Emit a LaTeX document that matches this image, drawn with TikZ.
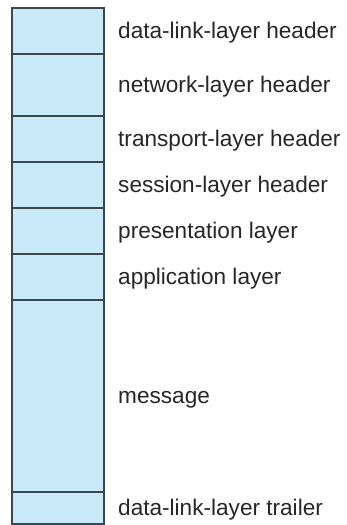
\documentclass[tikz,border=0pt]{standalone}
\usepackage{fontspec}
\setmainfont{Liberation Sans}
\usetikzlibrary{positioning}

\definecolor{cellblue}{RGB}{200,233,248}
\definecolor{cellline}{RGB}{62,70,78}

\tikzset{
    cellbox/.style={draw=cellline, fill=cellblue, line width=1.5pt,
        minimum width=92pt, inner sep=0pt, outer sep=0pt},
    layerlabel/.style={font=\fontsize{22.6}{26}\selectfont, text=black!85,
        inner sep=0pt}
}

\begin{document}
\begin{tikzpicture}[x=1pt,y=-1pt]

    % Rahmen
    \useasboundingbox (0,0) rectangle (346,525);

    % Zellen und Beschriftungen
    \foreach \top/\bot/\txt [count=\i] in {
        8/54/data-link-layer header,
        54/116/network-layer header,
        116/162/transport-layer header,
        162/208/session-layer header,
        208/254/presentation layer,
        254/300/application layer,
        300/492/message,
        492/524/data-link-layer trailer
    }{
        \pgfmathsetmacro{\mid}{(\top+\bot)/2}
        \pgfmathsetmacro{\hgt}{\bot-\top}
        \node[cellbox, minimum height=\hgt pt] (cell-\i) at (58,\mid) {};
        \node[layerlabel, right=14pt of cell-\i, anchor=base west,
            yshift=-7pt] (lab-\i) {\txt};
    }

\end{tikzpicture}
\end{document}
